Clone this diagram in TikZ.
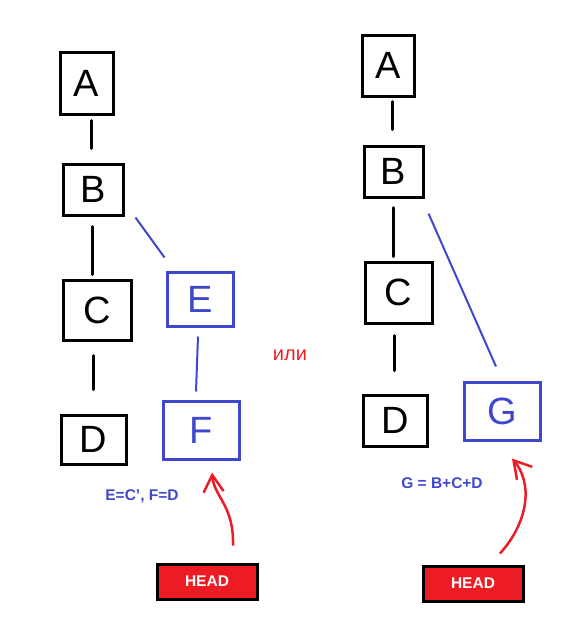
\documentclass[tikz,border=0pt]{standalone}
\usepackage{fontspec}
\setmainfont{Liberation Sans}
\usetikzlibrary{arrows.meta}
\definecolor{pblue}{HTML}{3F48CC}
\definecolor{pred}{HTML}{ED1C24}
\tikzset{
  commit/.style={draw=black, line width=3pt, inner sep=0pt, font=\fontsize{38}{38}\selectfont},
  newcommit/.style={draw=pblue, text=pblue, line width=3pt, inner sep=0pt, font=\fontsize{38}{38}\selectfont},
  link/.style={line width=3pt, line cap=round},
  blink/.style={draw=pblue, line width=2pt},
  headbox/.style={draw=black, fill=pred, line width=3pt, text=white, minimum width=100pt, minimum height=35pt, font=\fontsize{15.5}{15.5}\selectfont\bfseries},
  note/.style={text=pblue, font=\fontsize{15.5}{15.5}\selectfont\bfseries},
  redarrow/.style={draw=pred, line width=2.5pt, -{Straight Barb[length=17pt,width=20pt,line width=2.5pt]}}
}
\begin{document}
\begin{tikzpicture}[x=1pt,y=-1pt]
\useasboundingbox (0,0) rectangle (581,625);
% left history
\node[commit, minimum width=53pt, minimum height=62pt] (lA) at (86.5,83) {A};
\node[commit, minimum width=60pt, minimum height=51pt] (lB) at (93,189.5) {B};
\node[commit, minimum width=68pt, minimum height=60pt] (lC) at (97,310) {C};
\node[commit, minimum width=65pt, minimum height=49pt] (lD) at (93.5,439.5) {D};
\node[newcommit, minimum width=66pt, minimum height=54pt] (lE) at (200,299) {E};
\node[newcommit, minimum width=76pt, minimum height=58pt] (lF) at (201,430) {F};
\draw[link, shorten <=5pt, shorten >=14pt] ([xshift=4.5]lA.south) -- ([xshift=-2]lB.north);
\draw[link, shorten <=10pt, shorten >=4pt] ([xshift=-1]lB.south) -- ([xshift=-5]lC.north);
\draw[link, shorten <=14pt, shorten >=24pt] ([xshift=-4]lC.south) -- ([xshift=-0.5]lD.north);
\draw[blink] ([shift={(11,1)}]lB.south east) -- ([shift={(-1,-13)}]lE.north west);
\draw[blink] ([shift={(-2,9)}]lE.south) -- ([shift={(-5,-8)}]lF.north);
\node[note] (lnote) at (142,496) {E=C', F=D};
\node[headbox] (head1) at (207,581.5) {HEAD};
\draw[redarrow] ([shift={(26,-17)}]head1.north) .. controls (234,505) and (214,497) .. ([shift={(11,12)}]lF.south);
% or
\node[text=pred, font=\fontsize{20}{20}\selectfont] (ili) at (290,355) {или};
% right history
\node[commit, minimum width=52pt, minimum height=61pt] (rA) at (388,65.5) {A};
\node[commit, minimum width=59pt, minimum height=51pt] (rB) at (393.5,171.5) {B};
\node[commit, minimum width=67pt, minimum height=61pt] (rC) at (398.5,292.5) {C};
\node[commit, minimum width=64pt, minimum height=51pt] (rD) at (395,420.5) {D};
\node[newcommit, minimum width=76pt, minimum height=58pt] (rG) at (502,411) {G};
\draw[link, shorten <=4pt, shorten >=15pt] ([xshift=4]rA.south) -- ([xshift=-1.5]rB.north);
\draw[link, shorten <=9pt, shorten >=4pt] ([xshift=-0.5]rB.south) -- ([xshift=-5.5]rC.north);
\draw[link, shorten <=11pt, shorten >=23pt] ([xshift=-4.5]rC.south) -- ([xshift=-1]rD.north);
\draw[blink] ([shift={(4,15)}]rB.south east) -- ([shift={(-6,-14)}]rG.north);
\node[note] (rnote) at (442,483) {G = B+C+D};
\node[headbox] (head2) at (473,583.5) {HEAD};
\draw[redarrow] ([shift={(27,-11)}]head2.north) .. controls (530,520) and (532,482) .. ([shift={(10,17)}]rG.south);
\end{tikzpicture}
\end{document}
